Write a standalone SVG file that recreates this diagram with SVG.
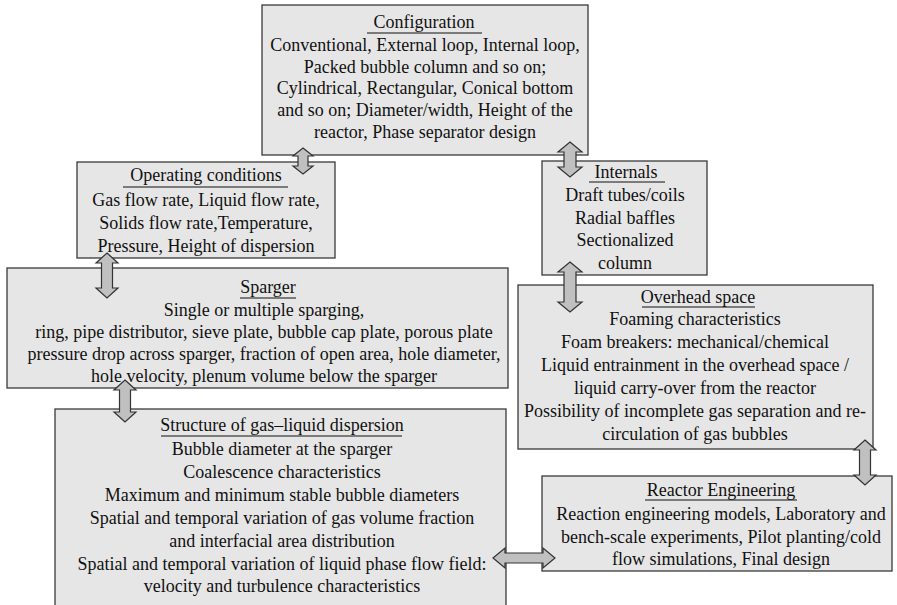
<svg xmlns="http://www.w3.org/2000/svg" width="897" height="605" viewBox="0 0 897 605">
<style>
.box{fill:#e6e6e6;stroke:#3a3a3a;stroke-width:1.3}
text{font-family:"Liberation Serif","Times New Roman",serif;font-size:18px;fill:#111;text-anchor:middle}
.ul{stroke:#111;stroke-width:1.2}
.arr{fill:#c0c0c0;stroke:#333;stroke-width:1.2;stroke-linejoin:miter}
</style>
<rect width="897" height="605" fill="#fff"/>
<g id="configuration">
<rect class="box" x="262" y="5" width="326" height="150"/>
<text x="424" y="28">Configuration</text>
<line class="ul" x1="367" y1="33" x2="482" y2="33"/>
<text x="425" y="51">Conventional, External loop, Internal loop,</text>
<text x="425" y="73">Packed bubble column and so on;</text>
<text x="425" y="94">Cylindrical, Rectangular, Conical bottom</text>
<text x="425" y="116">and so on; Diameter/width, Height of the</text>
<text x="425" y="138">reactor, Phase separator design</text>
</g>
<g id="operating-conditions">
<rect class="box" x="77" y="162" width="258" height="96"/>
<text x="206" y="181">Operating conditions</text>
<line class="ul" x1="123" y1="187" x2="288" y2="187"/>
<text x="206" y="206">Gas flow rate, Liquid flow rate,</text>
<text x="206" y="229">Solids flow rate,Temperature,</text>
<text x="206" y="252">Pressure, Height of dispersion</text>
</g>
<g id="internals">
<rect class="box" x="542" y="161" width="165" height="114"/>
<text x="626" y="178">Internals</text>
<line class="ul" x1="589" y1="182" x2="665" y2="182"/>
<text x="625" y="201">Draft tubes/coils</text>
<text x="625" y="224">Radial baffles</text>
<text x="625" y="246">Sectionalized</text>
<text x="625" y="269">column</text>
</g>
<g id="sparger">
<rect class="box" x="7" y="268" width="501" height="120"/>
<text x="268" y="293">Sparger</text>
<line class="ul" x1="240" y1="298" x2="296" y2="298"/>
<text x="264" y="316">Single or multiple sparging,</text>
<text x="264" y="338">ring, pipe distributor, sieve plate, bubble cap plate, porous plate</text>
<text x="264" y="360">pressure drop across sparger, fraction of open area, hole diameter,</text>
<text x="264" y="382">hole velocity, plenum volume below the sparger</text>
</g>
<g id="overhead-space">
<rect class="box" x="518" y="285" width="355" height="164"/>
<text x="698" y="303">Overhead space</text>
<line class="ul" x1="642" y1="307" x2="755" y2="307"/>
<text x="695" y="325">Foaming characteristics</text>
<text x="695" y="348">Foam breakers: mechanical/chemical</text>
<text x="695" y="371">Liquid entrainment in the overhead space /</text>
<text x="695" y="394">liquid carry-over from the reactor</text>
<text x="695" y="417">Possibility of incomplete gas separation and re-</text>
<text x="695" y="440">circulation of gas bubbles</text>
</g>
<g id="structure">
<rect class="box" x="55" y="409" width="451" height="210"/>
<text x="282" y="431">Structure of gas–liquid dispersion</text>
<line class="ul" x1="161" y1="436" x2="402" y2="436"/>
<text x="282" y="455">Bubble diameter at the sparger</text>
<text x="282" y="478">Coalescence characteristics</text>
<text x="282" y="501">Maximum and minimum stable bubble diameters</text>
<text x="282" y="524">Spatial and temporal variation of gas volume fraction</text>
<text x="282" y="547">and interfacial area distribution</text>
<text x="282" y="570">Spatial and temporal variation of liquid phase flow field:</text>
<text x="282" y="592">velocity and turbulence characteristics</text>
</g>
<g id="reactor-engineering">
<rect class="box" x="542" y="476" width="350" height="95"/>
<text x="721" y="496">Reactor Engineering</text>
<line class="ul" x1="645" y1="500" x2="797" y2="500"/>
<text x="721" y="520">Reaction engineering models, Laboratory and</text>
<text x="721" y="543">bench-scale experiments, Pilot planting/cold</text>
<text x="721" y="565">flow simulations, Final design</text>
</g>
<g id="connectors">
<polygon class="arr" points="303,148 313,156 308,156 308,166 313,166 303,174 293,166 298,166 298,156 293,156"/>
<polygon class="arr" points="570,142 582,152 576,152 576,167 582,167 570,177 558,167 564,167 564,152 558,152"/>
<polygon class="arr" points="107,253 118,263 112.5,263 112.5,288 118,288 107,298 96,288 101.5,288 101.5,263 96,263"/>
<polygon class="arr" points="125,380 136,390 130.5,390 130.5,412 136,412 125,422 114,412 119.5,412 119.5,390 114,390"/>
<polygon class="arr" points="570,262 582,272 576,272 576,302 582,302 570,312 558,302 564,302 564,272 558,272"/>
<polygon class="arr" points="865,440 876,450 870.5,450 870.5,475 876,475 865,485 854,475 859.5,475 859.5,450 854,450"/>
<polygon class="arr" points="493,558 505,548 505,553 543,553 543,548 555,558 543,568 543,563 505,563 505,568"/>
</g>
</svg>
